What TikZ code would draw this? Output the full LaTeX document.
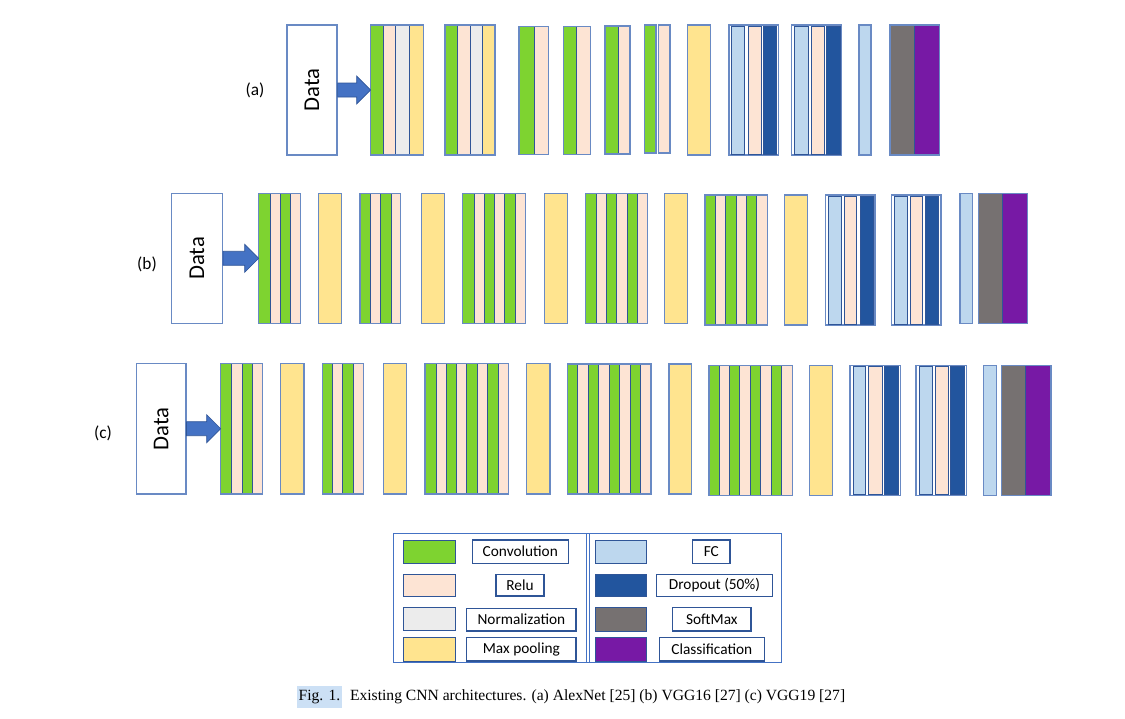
\documentclass[tikz,border=0pt]{standalone}
\usepackage{fontspec}
\setmainfont{Liberation Serif}
\newfontfamily\carl{Carlito}
\usetikzlibrary{calc}
\definecolor{cv}{RGB}{126,211,48}
\definecolor{rl}{RGB}{253,228,212}
\definecolor{nm}{RGB}{236,236,236}
\definecolor{mp}{RGB}{255,228,143}
\definecolor{fc}{RGB}{189,215,238}
\definecolor{dp}{RGB}{34,85,158}
\definecolor{sm}{RGB}{118,113,113}
\definecolor{cl}{RGB}{119,25,165}
\definecolor{bd}{RGB}{47,85,151}
\definecolor{bl}{RGB}{105,138,196}
\definecolor{ar}{RGB}{68,114,196}
\definecolor{hl}{RGB}{204,224,245}
\tikzset{
  sb/.style={draw=bd, line width=0.7pt},
  gb/.style={draw=bl, line width=0.9pt},
  databox/.style={draw=bl, line width=0.9pt, fill=white, inner sep=0pt,
    font=\carl\fontsize{17}{20}\selectfont},
  rowlab/.style={font=\carl\fontsize{13}{15}\selectfont, inner sep=0pt},
  legtxt/.style={draw=bd, line width=0.9pt, fill=white, inner sep=0pt,
    font=\carl\fontsize{11.5}{13}\selectfont},
  legframe/.style={draw=ar, line width=1pt},
  arrowbody/.style={fill=ar, draw=bd, line width=0.5pt},
  capt/.style={font=\fontsize{11.7}{13}\selectfont, inner sep=0pt}
}
% stripes of one group, then its outline
\newcommand\grp[5]{%
  \foreach \xa/\xb/\cc in {#5}{\path[sb,fill=\cc] (\xa,#1) rectangle (\xb,#2);}
  \path[gb] (#3,#1) rectangle (#4,#2);}
% FC group: white outline with inset boxes
\newcommand\fcg[5]{%
  \path[gb,fill=white] (#3,#1) rectangle (#4,#2);
  \foreach \xa/\xb/\cc in {#5}{\path[sb,fill=\cc] (\xa,#1+1) rectangle (\xb,#2-1);}}
\newcommand\single[5]{\path[gb,fill=#5] (#3,#1) rectangle (#4,#2);}
\newcommand\barrow[2]{%
  \path[arrowbody] ($(#1.east)+(0,-7)$) -- ($(#2)+(-14,-7)$) -- ($(#2)+(-14,-14)$)
    -- (#2) -- ($(#2)+(-14,14)$) -- ($(#2)+(-14,7)$) -- ($(#1.east)+(0,7)$) -- cycle;}
\newcommand\lbox[6]{\node[legtxt, minimum width={(#3-#2)*0.75pt},
  minimum height={(#5-#4)*0.75pt}] (#1) at ({(#2+#3)/2},{(#4+#5)/2}) {#6};}
\newcommand\swatch[6]{\node[sb, fill=#6, inner sep=0pt, minimum width={(#3-#2)*0.75pt},
  minimum height={(#5-#4)*0.75pt}] (#1) at ({(#2+#3)/2},{(#4+#5)/2}) {};}
\begin{document}
\begin{tikzpicture}[x=0.75pt,y=-0.75pt]
\useasboundingbox (0,0) rectangle (1125,718);
% ---------------- row (a) AlexNet
\node[rowlab] (la) at (255,90) {(a)};
\node[databox, minimum width=37.5pt, minimum height=97.5pt] (da) at (312,90) {\rotatebox{90}{Data}};
\coordinate (ga) at (370.7,90);
\grp{25}{155}{370.7}{423.3}{370.7/383.3/cv, 383.3/395.7/rl, 395.7/409/nm, 409/423.3/mp}
\grp{25}{155}{445}{495}{445/457.7/cv, 457.7/470/rl, 470/482.7/nm, 482.7/495/mp}
\grp{26.5}{154.5}{519}{548.3}{519/534/cv, 534/548.3/rl}
\grp{26.5}{154.5}{563.3}{590.7}{563.3/576/cv, 576/590.7/rl}
\grp{26}{154}{605}{630}{605/618/cv, 618/630/rl}
\grp{25}{153}{644.3}{656}{644.3/656/cv}
\grp{25}{153}{658.3}{670}{658.3/670/rl}
\single{25}{155}{687.7}{710.7}{mp}
\fcg{25}{155}{729}{778.3}{731/744.3/fc, 748.3/761/rl, 763.3/776.7/dp}
\fcg{25}{155}{791.7}{841.7}{794.3/808/fc, 811.7/824/rl, 826/840/dp}
\single{25}{155}{859}{871}{fc}
\grp{25}{155}{890}{939.3}{890/914.3/sm, 914.3/939.3/cl}
\barrow{da}{ga}
% ---------------- row (b) VGG16
\node[rowlab] (lb) at (147,264) {(b)};
\node[databox, minimum width=38pt, minimum height=97.5pt] (db) at (197,258.3) {\rotatebox{90}{Data}};
\coordinate (gbb) at (258.7,258.3);
\grp{193.3}{323.3}{258.7}{300.7}{258.7/270/cv, 270/280/rl, 280/290.7/cv, 290.7/300.7/rl}
\single{193.3}{323.3}{318.3}{341.7}{mp}
\grp{193.3}{323.3}{360}{400.7}{360/370/cv, 370/380.7/rl, 380.7/391/cv, 391/400.7/rl}
\single{193.3}{323.3}{421.7}{444.3}{mp}
\grp{193.3}{323.3}{462.7}{525.7}{462.7/474.7/cv, 474.7/484.7/rl, 484.7/494.7/cv, 494.7/504.7/rl, 504.7/515.7/cv, 515.7/525.7/rl}
\single{193.3}{323.3}{544.3}{567.7}{mp}
\grp{193.3}{323.3}{585.7}{647.3}{585.7/596/cv, 596/606/rl, 606/616.7/cv, 616.7/627/rl, 627/637.3/cv, 637.3/647.3/rl}
\single{193.3}{323.3}{664.3}{687.7}{mp}
\grp{195}{325}{705}{767.3}{705/715.7/cv, 715.7/725.7/rl, 725.7/736/cv, 736/746/rl, 746/756.7/cv, 756.7/767.3/rl}
\single{195}{325}{784.3}{807.7}{mp}
\fcg{195}{325}{825.7}{875}{828.7/841.7/fc, 844.3/856.7/rl, 860/873/dp}
\fcg{195}{325}{891.7}{941}{894.7/907.3/fc, 910/922.3/rl, 925.3/938.7/dp}
\single{193.3}{323.3}{960}{972.7}{fc}
\grp{193.3}{323.3}{978.3}{1027.3}{978.3/1002.3/sm, 1002.3/1027.3/cl}
\barrow{db}{gbb}
% ---------------- row (c) VGG19
\node[rowlab] (lc) at (103,433) {(c)};
\node[databox, minimum width=37pt, minimum height=98pt] (dc) at (161.3,428.7) {\rotatebox{90}{Data}};
\coordinate (gc) at (220.7,428.7);
\grp{363.5}{494}{220.7}{262.7}{220.7/231/cv, 231/242/rl, 242/252.3/cv, 252.3/262.7/rl}
\single{363.5}{494}{280.7}{304}{mp}
\grp{363.5}{494}{322.3}{363.3}{322.3/332.7/cv, 332.7/342.7/rl, 342.7/353/cv, 353/363.3/rl}
\single{363.5}{494}{383.3}{406.7}{mp}
\grp{363.5}{494}{425}{508.3}{425/436/cv, 436/446/rl, 446/456.3/cv, 456.3/466.7/rl, 466.7/477.7/cv, 477.7/487.7/rl, 487.7/498.3/cv, 498.3/508.3/rl}
\single{363.5}{494}{526.7}{550}{mp}
\grp{364}{494}{567.7}{651}{567.7/577.7/cv, 577.7/588.3/rl, 588.3/598.3/cv, 598.3/609/rl, 609/619.3/cv, 619.3/630/rl, 630/640.7/cv, 640.7/651/rl}
\single{364}{494}{669}{691.7}{mp}
\grp{365.7}{495.7}{709}{792.3}{709/719/cv, 719/729.3/rl, 729.3/739.7/cv, 739.7/750/rl, 750/760.7/cv, 760.7/771/rl, 771/781.7/cv, 781.7/792.3/rl}
\single{365.7}{495.7}{809.3}{832.7}{mp}
\fcg{365.7}{495.7}{850}{900.7}{853/865/fc, 868.7/882/rl, 884.3/898/dp}
\fcg{365.7}{495.7}{916}{966.7}{919/932/fc, 935/948/rl, 950/964/dp}
\single{365.7}{495.7}{983.3}{996.7}{fc}
\grp{365.7}{495.7}{1001.7}{1051}{1001.7/1025.7/sm, 1025.7/1051/cl}
\barrow{dc}{gc}
% ---------------- legend
\path[legframe] (393.3,533.3) rectangle (781.7,662.3);
\draw[legframe] (586.5,533.3) -- (586.5,662.3);
\draw[legframe] (589.2,533.3) -- (589.2,662.3);
\swatch{s1}{403.3}{455}{540}{563.3}{cv}
\swatch{s2}{403.3}{455}{574.3}{596}{rl}
\swatch{s3}{403.3}{455}{607.3}{630}{nm}
\swatch{s4}{403.3}{455}{637.7}{661}{mp}
\lbox{t1}{472.3}{568.3}{540}{563.3}{Convolution}
\lbox{t2}{496}{544}{574.3}{596}{Relu}
\lbox{t3}{466.7}{576}{608.3}{631}{Normalization}
\lbox{t4}{466.7}{576}{637.7}{661}{Max pooling}
\swatch{s5}{595.7}{646}{540}{563.3}{fc}
\swatch{s6}{595.7}{646}{574.3}{596.7}{dp}
\swatch{s7}{595.7}{646}{607.3}{631}{sm}
\swatch{s8}{595.7}{646}{637.3}{661}{cl}
\lbox{t5}{692.7}{730}{540}{563.3}{FC}
\lbox{t6}{656.7}{772.3}{574.3}{596.7}{Dropout (50\%)}
\lbox{t7}{672.7}{751}{607.3}{631}{SoftMax}
\lbox{t8}{659.3}{764.3}{637.3}{661}{Classification}
% ---------------- caption
\node[capt, fill=hl, inner xsep=1pt, inner ysep=3pt, anchor=west] (fig) at (297,697) {Fig. 1.};
\node[capt, anchor=west] (cap) at ([xshift=6pt]fig.east) {Existing CNN architectures. (a) AlexNet [25] (b) VGG16 [27] (c) VGG19 [27]};
\end{tikzpicture}
\end{document}
